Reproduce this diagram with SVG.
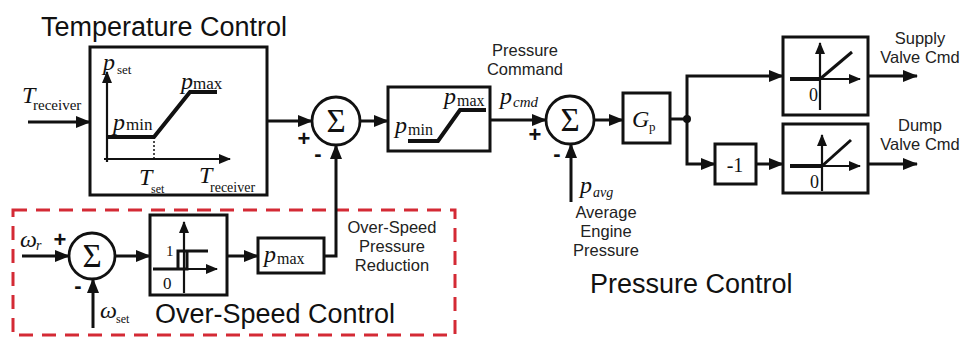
<svg xmlns="http://www.w3.org/2000/svg" width="968" height="338" viewBox="0 0 968 338">
<style>
.ln{fill:none;stroke:#111;stroke-width:3}
.ax{fill:none;stroke:#111;stroke-width:2.2}
.th{fill:none;stroke:#111;stroke-width:4}
.bx{fill:#fff;stroke:#111;stroke-width:3}
.sum{fill:#fff;stroke:#111;stroke-width:2.8}
.ti{font-family:"Liberation Sans",Arial,sans-serif;font-size:27px;fill:#111}
.lb{font-family:"Liberation Sans",Arial,sans-serif;font-size:16.5px;fill:#222}
.m{font-family:"Liberation Serif","Times New Roman",serif;font-style:italic;font-size:24px;fill:#111}
.s{font-family:"Liberation Serif","Times New Roman",serif;fill:#111}
.si{font-family:"Liberation Serif","Times New Roman",serif;font-style:italic;fill:#111}
.sg{font-family:"Liberation Serif","Times New Roman",serif;font-size:33px;fill:#111}
.pm{font-family:"Liberation Sans",Arial,sans-serif;font-size:22px;font-weight:bold;fill:#111}
</style>
<defs>
<marker id="ar" markerUnits="userSpaceOnUse" markerWidth="15" markerHeight="12" refX="14" refY="6" orient="auto">
<path d="M0,0 L15,6 L0,12 z" fill="#111"/>
</marker>
<marker id="sa" markerUnits="userSpaceOnUse" markerWidth="12" markerHeight="10" refX="11" refY="5" orient="auto">
<path d="M0,0 L12,5 L0,10 z" fill="#111"/>
</marker>
</defs>
<rect width="968" height="338" fill="#fff"/>

<g id="titles">
<text class="ti" x="41" y="36">Temperature Control</text>
<text class="ti" x="155" y="323">Over-Speed Control</text>
<text class="ti" x="590" y="293">Pressure Control</text>
</g>

<g id="temperature-block">
<rect class="bx" x="90" y="47" width="177" height="148"/>
<line class="ax" x1="107" y1="162" x2="107" y2="72" marker-end="url(#sa)"/>
<line class="ax" x1="104" y1="159" x2="230" y2="159" marker-end="url(#sa)"/>
<polyline class="th" points="107,137 154,137 190,92 217,92"/>
<line x1="154" y1="137" x2="154" y2="159" stroke="#111" stroke-width="1.5" stroke-dasharray="2,2"/>
<text class="m" x="103" y="70">p</text><text class="s" x="117" y="74" font-size="13">set</text>
<text class="m" x="181" y="89">p</text><text class="s" x="193" y="89" font-size="17">max</text>
<text class="m" x="113" y="130">p</text><text class="s" x="126" y="130" font-size="17">min</text>
<text class="m" x="139" y="185" font-size="26">T</text><text class="s" x="151" y="193" font-size="12">set</text>
<text class="m" x="199" y="183" font-size="26">T</text><text class="s" x="210" y="192" font-size="14">receiver</text>
</g>

<g id="input-treceiver">
<text class="m" x="22" y="103" font-size="27">T</text><text class="s" x="33" y="110" font-size="15">receiver</text>
</g>

<g id="sum1">
<circle class="sum" cx="336" cy="121" r="24"/>
<text class="sg" x="336" y="132" text-anchor="middle">Σ</text>
<text class="pm" x="304" y="146" text-anchor="middle">+</text>
<text class="pm" x="318" y="161" text-anchor="middle">-</text>
</g>

<g id="limiter-block">
<rect class="bx" x="388" y="87" width="102" height="64"/>
<polyline class="th" points="408,141 438,141 460,110 486,110"/>
<text class="m" x="395" y="133">p</text><text class="s" x="408" y="135" font-size="16">min</text>
<text class="m" x="444" y="104">p</text><text class="s" x="457" y="106" font-size="16">max</text>
</g>

<g id="pressure-command-label">
<text class="lb" x="525" y="56" text-anchor="middle">Pressure</text>
<text class="lb" x="525" y="75" text-anchor="middle">Command</text>
<text class="m" x="500" y="104">p</text><text class="si" x="513" y="107" font-size="15">cmd</text>
</g>

<g id="sum2">
<circle class="sum" cx="570" cy="120" r="24"/>
<text class="sg" x="570" y="131" text-anchor="middle">Σ</text>
<text class="pm" x="535" y="142" text-anchor="middle">+</text>
<text class="pm" x="557" y="161" text-anchor="middle">-</text>
</g>

<g id="pavg-label">
<text class="m" x="580" y="193">p</text><text class="si" x="593" y="197" font-size="14">avg</text>
<text class="lb" x="606" y="218" text-anchor="middle">Average</text>
<text class="lb" x="606" y="237" text-anchor="middle">Engine</text>
<text class="lb" x="606" y="256" text-anchor="middle">Pressure</text>
</g>

<g id="gain-block">
<rect class="bx" x="623" y="93" width="47" height="50"/>
<text class="m" x="632" y="127">G</text><text class="s" x="649" y="131" font-size="13">p</text>
</g>

<g id="neg-block">
<rect class="bx" x="715" y="144" width="41" height="40"/>
<text class="s" x="735" y="172" font-size="20" text-anchor="middle">-1</text>
</g>

<g id="supply-block">
<rect class="bx" x="783" y="37" width="85" height="78"/>
<line class="ax" x1="790" y1="79" x2="860" y2="79" marker-end="url(#sa)"/>
<line class="th" x1="790" y1="79" x2="820" y2="79"/>
<line class="ax" x1="820" y1="110" x2="820" y2="43" marker-end="url(#sa)"/>
<line class="ln" x1="820" y1="79" x2="852" y2="52"/>
<text class="s" x="809" y="101" font-size="18">0</text>
<text class="lb" x="920" y="44" text-anchor="middle">Supply</text>
<text class="lb" x="920" y="63" text-anchor="middle">Valve Cmd</text>
</g>

<g id="dump-block">
<rect class="bx" x="783" y="124" width="85" height="69"/>
<line class="ax" x1="790" y1="166" x2="860" y2="166" marker-end="url(#sa)"/>
<line class="th" x1="790" y1="166" x2="822" y2="166"/>
<line class="ax" x1="822" y1="191" x2="822" y2="135" marker-end="url(#sa)"/>
<line class="ln" x1="822" y1="166" x2="851" y2="140"/>
<text class="s" x="810" y="188" font-size="18">0</text>
<text class="lb" x="920" y="131" text-anchor="middle">Dump</text>
<text class="lb" x="920" y="150" text-anchor="middle">Valve Cmd</text>
</g>

<g id="overspeed-group">
<rect x="13" y="210" width="442" height="125" fill="none" stroke="#d42a35" stroke-width="3" stroke-dasharray="14,9"/>
</g>

<g id="omega-labels">
<text class="m" x="20" y="247">ω</text><text class="si" x="36" y="250" font-size="14">r</text>
<text class="m" x="100" y="318">ω</text><text class="s" x="116" y="323" font-size="12">set</text>
</g>

<g id="sum3">
<circle class="sum" cx="92" cy="256" r="23"/>
<text class="sg" x="92" y="267" text-anchor="middle">Σ</text>
<text class="pm" x="60" y="247" text-anchor="middle">+</text>
<text class="pm" x="78" y="293" text-anchor="middle">-</text>
</g>

<g id="hysteresis-block">
<rect class="bx" x="150" y="215" width="77" height="80"/>
<line class="ax" x1="184" y1="293" x2="184" y2="222" marker-end="url(#sa)"/>
<line class="ax" x1="153" y1="269" x2="217" y2="269" marker-end="url(#sa)"/>
<polyline class="ln" points="153,269 187,269 187,251"/>
<polyline class="ln" points="208,251 178,251 178,269"/>
<text class="s" x="166" y="256" font-size="15">1</text>
<text class="s" x="163" y="289" font-size="17">0</text>
</g>

<g id="pmax-block">
<rect class="bx" x="258" y="238" width="66" height="35"/>
<text class="m" x="264" y="262">p</text><text class="s" x="277" y="264" font-size="16">max</text>
</g>

<g id="reduction-label">
<text class="lb" x="392" y="233" text-anchor="middle">Over-Speed</text>
<text class="lb" x="392" y="252" text-anchor="middle">Pressure</text>
<text class="lb" x="392" y="271" text-anchor="middle">Reduction</text>
</g>

<g id="connectors">
<line class="ln" x1="28" y1="122" x2="90" y2="122" marker-end="url(#ar)"/>
<line class="ln" x1="267" y1="121" x2="312" y2="121" marker-end="url(#ar)"/>
<line class="ln" x1="360" y1="121" x2="388" y2="121" marker-end="url(#ar)"/>
<line class="ln" x1="490" y1="120" x2="546" y2="120" marker-end="url(#ar)"/>
<line class="ln" x1="571" y1="202" x2="571" y2="144" marker-end="url(#ar)"/>
<line class="ln" x1="594" y1="120" x2="623" y2="120" marker-end="url(#ar)"/>
<line class="ln" x1="670" y1="119" x2="687" y2="119"/>
<polyline class="ln" points="687,119 687,76 783,76" marker-end="url(#ar)"/>
<polyline class="ln" points="687,119 687,164 715,164" marker-end="url(#ar)"/>
<circle cx="687" cy="119" r="4" fill="#111"/>
<line class="ln" x1="756" y1="164" x2="783" y2="164" marker-end="url(#ar)"/>
<line class="ln" x1="868" y1="76" x2="917" y2="76" marker-end="url(#ar)"/>
<line class="ln" x1="868" y1="164" x2="917" y2="164" marker-end="url(#ar)"/>
<line class="ln" x1="22" y1="256" x2="69" y2="256" marker-end="url(#ar)"/>
<line class="ln" x1="93" y1="328" x2="93" y2="279" marker-end="url(#ar)"/>
<line class="ln" x1="115" y1="256" x2="150" y2="256" marker-end="url(#ar)"/>
<line class="ln" x1="227" y1="256" x2="258" y2="256" marker-end="url(#ar)"/>
<polyline class="ln" points="324,256 336,256 336,145" marker-end="url(#ar)"/>
</g>
</svg>
